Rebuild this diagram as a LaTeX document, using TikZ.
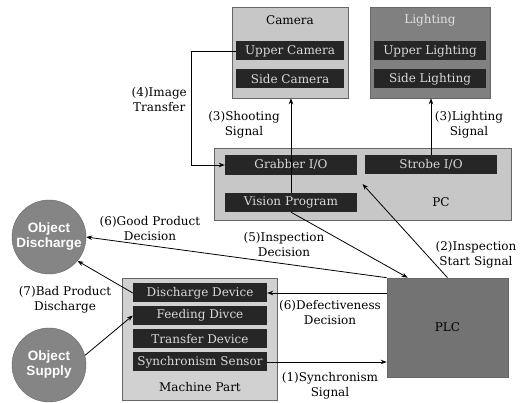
\documentclass[tikz,border=0pt]{standalone}
\usepackage{fontspec}
\setmainfont{DejaVu Serif}
\newfontfamily\ballfamily{Liberation Sans}
\usetikzlibrary{positioning,arrows.meta,calc}

\newcommand{\sigfont}{\fontsize{12}{15}\selectfont}
\newcommand{\unitfont}{\fontsize{12}{13}\selectfont}
\newcommand{\ballfont}{\ballfamily\bfseries\fontsize{13.5}{15}\selectfont}

\begin{document}
\begin{tikzpicture}[x=1pt, y=-1pt,
  group/.style={rectangle, draw=black!60, line width=0.6pt, inner sep=0pt},
  unit/.style={rectangle, fill=black!85, text=black!15, minimum width=134pt, minimum height=19pt, inner sep=0pt, font=\unitfont},
  ball/.style={circle, draw=black!60, fill=black!48, text=white, minimum size=74pt, inner sep=0pt, align=center, font=\ballfont},
  title/.style={font=\sigfont, inner sep=0pt},
  sig/.style={-{Stealth[length=6pt, width=4.5pt]}, line width=0.8pt},
  label/.style={font=\sigfont, align=center, inner sep=0pt},
]
\useasboundingbox (0,0) rectangle (523,403);

% === Camera ===
\node[group, fill=black!22, minimum width=116pt, minimum height=91pt] (camera) at (290,52.5) {};
\node[title] (camtitle) at (290,20) {Camera};
\node[unit, minimum width=108pt] (upcam) at (290,51) {Upper Camera};
\node[unit, minimum width=108pt] (sidecam) at (290,79) {Side Camera};

% === Lighting ===
\node[group, fill=black!50, minimum width=120pt, minimum height=91pt] (lighting) at (430,52.5) {};
\node[title, text=black!12] (littitle) at (430,20) {Lighting};
\node[unit, minimum width=112pt] (uplit) at (430,51) {Upper Lighting};
\node[unit, minimum width=112pt] (sidelit) at (430,79) {Side Lighting};

% === PC ===
\node[group, fill=black!22, minimum width=297pt, minimum height=72pt] (pc) at (362.5,184) {};
\node[unit, minimum width=132pt, minimum height=20pt] (grabber) at (291,165) {Grabber I/O};
\node[unit, minimum width=132pt] (strobe) at (431,164.5) {Strobe I/O};
\node[unit, minimum width=132pt] (vision) at (291,202.5) {Vision Program};
\node[title] (pctitle) at (441,202) {PC};

% === Machine part ===
\node[group, fill=black!18, minimum width=155pt, minimum height=122pt] (machine) at (199.5,339) {};
\node[unit] (discharge) at (200,293) {Discharge Device};
\node[unit] (feeding) at (200,315.5) {Feeding Divce};
\node[unit] (transfer) at (200,339) {Transfer Device};
\node[unit] (syncsensor) at (200,362) {Synchronism Sensor};
\node[title] (machtitle) at (200,387) {Machine Part};

% === PLC ===
\node[group, fill=black!55, minimum width=121pt, minimum height=99pt] (plc) at (447.5,327.5) {};
\node[title] (plctitle) at (447.5,327.5) {PLC};

% === Objects ===
\node[ball] (disch) at (49,237) {Object\\Discharge};
\node[ball] (supply) at (49,365) {Object\\Supply};

% === Signals ===
\draw[sig] (upcam.west) -- ++(-44,0) |- (grabber.west);
\node[label, anchor=east] (imglbl) at (187,99.5) {(4)Image\\Transfer};

\draw[sig] (vision.north) -- (vision.north |- camera.south);
\node[label] (shootlbl) at (244,124.5) {(3)Shooting\\Signal};

\draw[sig] (strobe.north) -- (strobe.north |- lighting.south);
\node[label] (litlbl) at (469,124.5) {(3)Lighting\\Signal};

\draw[sig] (plc.north) -- (pc.center);
\node[label] (startlbl) at (476,255) {(2)Inspection\\Start Signal};

\draw[sig] (vision.south) -- ([xshift=21pt]plc.north west);
\node[label] (inslbl) at (284,244.5) {(5)Inspection\\Decision};

\draw[sig] (plc.north west) -- (disch.east);
\node[label] (goodlbl) at (150,228.5) {(6)Good Product\\Decision};

\draw[sig] (discharge.east -| plc.west) -- (discharge.east);
\node[label] (deflbl) at (330,312.5) {(6)Defectiveness\\Decision};

\draw[sig] (syncsensor.east) -- (syncsensor.east -| plc.west);
\node[label] (synclbl) at (330,385.5) {(1)Synchronism\\Signal};

\draw[sig] (discharge.west) -- (disch.-40);
\node[label] (badlbl) at (65,300) {(7)Bad Product\\Discharge};

\draw[sig] (supply.15) -- (feeding.west);

\end{tikzpicture}
\end{document}
